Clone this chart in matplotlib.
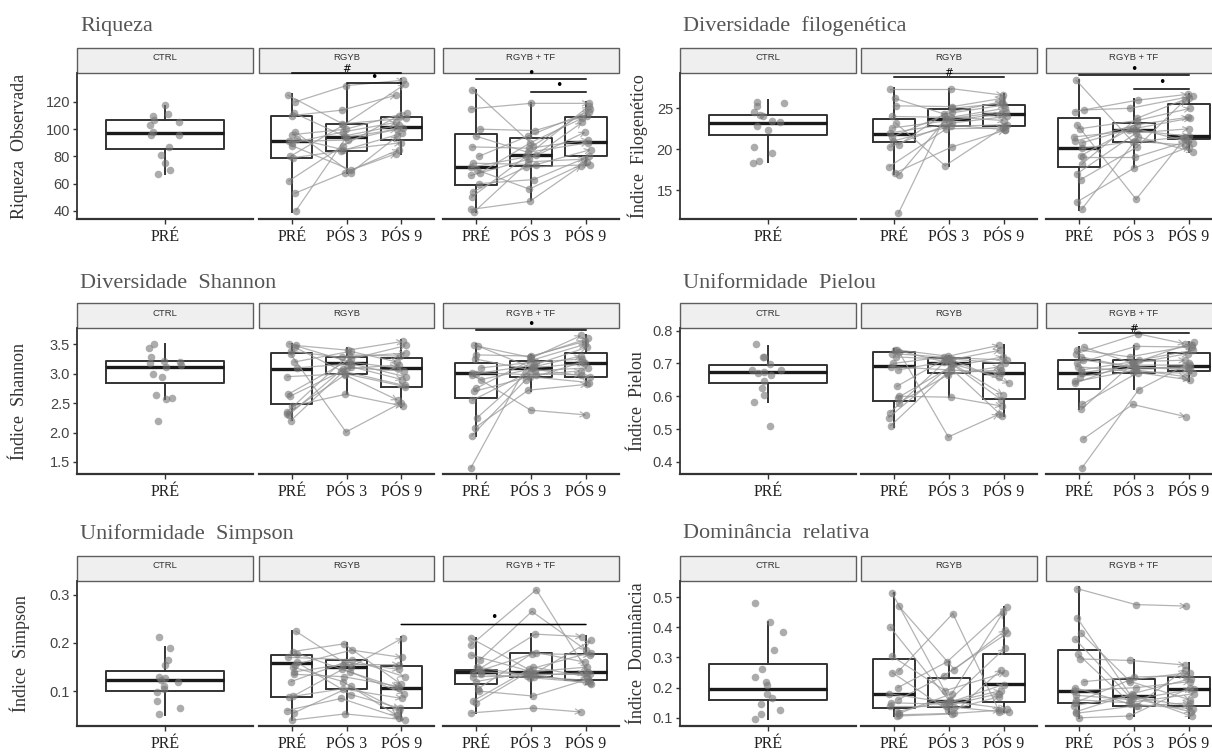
import numpy as np
import matplotlib
matplotlib.use('Agg')
import matplotlib.pyplot as plt
from matplotlib.patches import Rectangle, ConnectionPatch

# ---- data ----
groups = ['CTRL', 'RGYB', 'RGYB + TF']
times = ['PRÉ', 'PÓS 3', 'PÓS 9']

# Riqueza observada
riq_ctrl = [110, 118, 111, 103, 107, 105, 96, 98, 96, 87, 81, 75, 70, 67]
riq_rgyb_pre = [125, 120, 112, 110, 98, 96, 93, 91, 90, 88, 80, 79, 62, 53, 40]
riq_rgyb_p3 = [104, 132, 95, 114, 68, 100, 85, 92, 98, 70, 103, 84, 88, 68, 94]
riq_rgyb_p9 = [108, 136, 103, 125, 95, 112, 90, 101, 105, 82, 133, 97, 110, 85, 100]
riq_tf_pre = [129, 115, 100, 95, 87, 80, 75, 72, 70, 68, 66, 60, 54, 50, 41, 39]
riq_tf_p3 = [88, 119, 99, 83, 86, 95, 74, 81, 56, 90, 78, 63, 72, 80, 47, 76]
riq_tf_p9 = [115, 119, 110, 90, 92, 113, 85, 105, 76, 108, 98, 80, 74, 117, 73, 78]
riq_box = [(67, 85.3, 97.5, 106.8, 117.3), (39.5, 79.1, 91.6, 110.0, 125.6),
           (67.7, 84.3, 94.6, 103.9, 132.5), (81.8, 92.1, 101.4, 109.2, 136.6),
           (38.8, 59.1, 72.5, 96.5, 128.8), (47.7, 73.2, 81.1, 93.3, 119.5),
           (73.8, 80.4, 90.9, 109.2, 120.0)]

# Diversidade filogenetica
fil_ctrl = [25.8, 25.7, 25.3, 24.2, 24.0, 24.5, 23.3, 23.5, 22.8, 22.4, 20.3, 19.6, 18.6, 18.3]
fil_rgyb_pre = [27.4, 26.2, 25.3, 24.0, 23.2, 22.6, 22.0, 21.5, 21.0, 20.5, 20.3, 17.9, 17.1, 16.9, 12.2]
fil_rgyb_p3 = [27.4, 24.3, 25.2, 23.9, 18.0, 23.5, 23.0, 24.6, 22.8, 25.0, 23.2, 22.5, 20.3, 23.7, 24.0]
fil_rgyb_p9 = [26.6, 25.4, 26.2, 25.0, 22.8, 24.3, 22.4, 25.8, 23.0, 25.6, 24.0, 22.6, 22.3, 24.6, 23.5]
fil_tf_pre = [28.4, 24.8, 24.6, 23.0, 22.5, 21.5, 21.0, 20.8, 20.1, 19.2, 19.0, 18.2, 17.0, 16.3, 13.6, 12.7]
fil_tf_p3 = [20.9, 25.0, 26.0, 13.9, 23.5, 22.3, 23.0, 22.6, 21.0, 22.4, 19.0, 23.8, 22.0, 20.3, 17.7, 21.5]
fil_tf_p9 = [21.5, 26.5, 26.7, 21.3, 25.0, 21.6, 23.9, 20.8, 20.5, 23.8, 21.0, 26.3, 22.5, 26.0, 20.3, 19.7]
fil_box = [(18.4, 21.8, 23.26, 24.23, 25.98), (17.0, 20.9, 21.9, 23.66, 27.5),
           (18.0, 22.8, 23.7, 24.96, 27.4), (22.3, 22.8, 24.27, 25.45, 26.7),
           (12.6, 17.9, 20.1, 23.86, 28.5), (17.8, 20.9, 22.3, 23.2, 26.1),
           (19.7, 21.2, 21.6, 25.57, 26.7)]

# Diversidade Shannon
sha_ctrl = [3.51, 3.43, 3.28, 3.22, 3.20, 3.18, 3.14, 3.12, 3.00, 2.95, 2.63, 2.58, 2.57, 2.20]
sha_rgyb_pre = [3.51, 3.48, 3.45, 3.38, 3.33, 3.20, 3.10, 2.95, 2.65, 2.62, 2.45, 2.35, 2.32, 2.30, 2.20]
sha_rgyb_p3 = [3.20, 3.40, 3.05, 3.28, 2.01, 3.38, 3.17, 3.00, 3.25, 3.12, 2.65, 3.32, 2.98, 3.08, 3.10]
sha_rgyb_p9 = [3.10, 3.55, 2.80, 3.35, 2.50, 3.20, 2.95, 2.78, 3.48, 2.90, 2.45, 3.30, 2.55, 3.15, 3.05]
sha_tf_pre = [3.48, 3.47, 3.32, 3.25, 3.10, 3.02, 3.00, 2.98, 2.90, 2.75, 2.70, 2.55, 2.25, 2.08, 1.95, 1.40]
sha_tf_p3 = [3.28, 3.10, 3.30, 3.05, 3.20, 2.98, 3.15, 2.38, 3.08, 3.22, 2.95, 3.00, 3.12, 2.72, 2.90, 3.26]
sha_tf_p9 = [3.60, 3.18, 3.55, 3.10, 3.25, 3.05, 3.45, 2.30, 2.95, 3.50, 2.85, 2.98, 3.30, 2.82, 3.20, 3.65]
sha_box = [(2.57, 2.85, 3.12, 3.22, 3.505), (2.21, 2.49, 3.08, 3.347, 3.51),
           (2.65, 2.995, 3.177, 3.29, 3.43), (2.44, 2.77, 3.09, 3.26, 3.57),
           (1.94, 2.58, 3.02, 3.177, 3.50), (2.71, 2.94, 3.09, 3.216, 3.32),
           (2.81, 2.95, 3.177, 3.35, 3.66)]

# Uniformidade Pielou
pie_ctrl = [0.758, 0.72, 0.72, 0.698, 0.68, 0.675, 0.67, 0.665, 0.68, 0.645, 0.625, 0.605, 0.583, 0.51]
pie_rgyb_pre = [0.742, 0.74, 0.735, 0.73, 0.72, 0.70, 0.69, 0.68, 0.63, 0.60, 0.595, 0.58, 0.55, 0.535, 0.51]
pie_rgyb_p3 = [0.722, 0.70, 0.476, 0.718, 0.712, 0.72, 0.68, 0.705, 0.715, 0.597, 0.69, 0.665, 0.71, 0.698, 0.67]
pie_rgyb_p9 = [0.755, 0.59, 0.545, 0.71, 0.74, 0.64, 0.672, 0.54, 0.70, 0.57, 0.72, 0.69, 0.605, 0.66, 0.68]
pie_tf_pre = [0.75, 0.742, 0.73, 0.72, 0.71, 0.70, 0.69, 0.68, 0.672, 0.66, 0.645, 0.64, 0.575, 0.56, 0.47, 0.382]
pie_tf_p3 = [0.70, 0.72, 0.79, 0.685, 0.69, 0.752, 0.675, 0.705, 0.695, 0.688, 0.68, 0.71, 0.672, 0.70, 0.575, 0.62]
pie_tf_p9 = [0.73, 0.755, 0.76, 0.69, 0.68, 0.75, 0.67, 0.71, 0.695, 0.685, 0.66, 0.74, 0.65, 0.765, 0.538, 0.70]
pie_box = [(0.582, 0.64, 0.674, 0.696, 0.754), (0.507, 0.587, 0.691, 0.734, 0.745),
           (0.599, 0.67, 0.701, 0.716, 0.722), (0.539, 0.593, 0.672, 0.70, 0.755),
           (0.562, 0.623, 0.672, 0.71, 0.751), (0.623, 0.672, 0.688, 0.711, 0.754),
           (0.647, 0.677, 0.693, 0.732, 0.766)]

# Uniformidade Simpson
sim_ctrl = [0.213, 0.19, 0.165, 0.155, 0.13, 0.128, 0.124, 0.12, 0.11, 0.105, 0.098, 0.08, 0.065, 0.052]
sim_rgyb_pre = [0.224, 0.182, 0.178, 0.17, 0.16, 0.155, 0.15, 0.14, 0.135, 0.12, 0.09, 0.088, 0.06, 0.055, 0.04]
sim_rgyb_p3 = [0.15, 0.198, 0.14, 0.165, 0.093, 0.185, 0.12, 0.155, 0.13, 0.16, 0.145, 0.105, 0.085, 0.11, 0.053]
sim_rgyb_p9 = [0.21, 0.115, 0.095, 0.13, 0.065, 0.17, 0.05, 0.155, 0.11, 0.145, 0.106, 0.085, 0.045, 0.06, 0.041]
sim_tf_pre = [0.21, 0.195, 0.175, 0.165, 0.15, 0.145, 0.14, 0.138, 0.135, 0.13, 0.12, 0.105, 0.10, 0.08, 0.075, 0.055]
sim_tf_p3 = [0.145, 0.31, 0.138, 0.265, 0.13, 0.218, 0.135, 0.18, 0.128, 0.132, 0.14, 0.178, 0.09, 0.15, 0.137, 0.065]
sim_tf_p9 = [0.18, 0.14, 0.205, 0.185, 0.122, 0.213, 0.135, 0.16, 0.118, 0.138, 0.15, 0.175, 0.125, 0.13, 0.115, 0.057]
sim_box = [(0.05, 0.101, 0.124, 0.141, 0.192), (0.04, 0.089, 0.158, 0.175, 0.225),
           (0.053, 0.105, 0.15, 0.164, 0.20), (0.041, 0.066, 0.106, 0.153, 0.212),
           (0.055, 0.114, 0.139, 0.143, 0.21), (0.088, 0.129, 0.139, 0.18, 0.219),
           (0.115, 0.123, 0.139, 0.177, 0.214)]

# Dominancia relativa
dom_ctrl = [0.481, 0.418, 0.383, 0.325, 0.263, 0.235, 0.22, 0.21, 0.178, 0.165, 0.147, 0.125, 0.113, 0.097]
dom_rgyb_pre = [0.512, 0.47, 0.40, 0.305, 0.255, 0.25, 0.20, 0.18, 0.16, 0.15, 0.14, 0.12, 0.115, 0.11, 0.106]
dom_rgyb_p3 = [0.135, 0.26, 0.155, 0.19, 0.445, 0.125, 0.285, 0.15, 0.24, 0.145, 0.14, 0.16, 0.18, 0.115, 0.113]
dom_rgyb_p9 = [0.118, 0.39, 0.13, 0.25, 0.12, 0.17, 0.467, 0.19, 0.38, 0.21, 0.18, 0.33, 0.45, 0.125, 0.26]
dom_tf_pre = [0.528, 0.43, 0.38, 0.36, 0.31, 0.295, 0.22, 0.20, 0.19, 0.175, 0.16, 0.15, 0.14, 0.12, 0.115, 0.10]
dom_tf_p3 = [0.475, 0.165, 0.22, 0.17, 0.145, 0.29, 0.235, 0.138, 0.2, 0.16, 0.15, 0.225, 0.175, 0.18, 0.14, 0.106]
dom_tf_p9 = [0.47, 0.12, 0.16, 0.14, 0.13, 0.275, 0.24, 0.15, 0.22, 0.195, 0.18, 0.25, 0.105, 0.23, 0.26, 0.2]
dom_box = [(0.097, 0.158, 0.195, 0.278, 0.416), (0.106, 0.132, 0.18, 0.294, 0.514),
           (0.113, 0.136, 0.155, 0.231, 0.285), (0.118, 0.151, 0.211, 0.312, 0.467),
           (0.10, 0.149, 0.19, 0.325, 0.533), (0.106, 0.14, 0.173, 0.227, 0.291),
           (0.10, 0.14, 0.195, 0.236, 0.28)]

# significance bars: (facet, x from, x to, y, symbol)
riq_sig = [(1, 1, 3, 141, '#'), (1, 2, 3, 134, '•'), (2, 1, 3, 137, '•'), (2, 2, 3, 127.5, '•')]
fil_sig = [(1, 1, 3, 28.8, '#'), (2, 1, 3, 29.0, '•'), (2, 2, 3, 27.4, '•')]
sha_sig = [(2, 1, 3, 3.743, '•')]
pie_sig = [(2, 1, 3, 0.792, '#')]
sim_sig = [('cross', 3, 3, 0.238, '•')]
dom_sig = []

panels = [
    dict(title='Riqueza', ylabel='Riqueza  Observada', ylim=(34, 141.3), yticks=[40, 60, 80, 100, 120],
         ctrl=riq_ctrl, rgyb=(riq_rgyb_pre, riq_rgyb_p3, riq_rgyb_p9), tf=(riq_tf_pre, riq_tf_p3, riq_tf_p9),
         box=riq_box, sig=riq_sig, fmt='{:.0f}'),
    dict(title='Diversidade  filogenética', ylabel='Índice  Filogenético', ylim=(11.5, 29.3), yticks=[15, 20, 25],
         ctrl=fil_ctrl, rgyb=(fil_rgyb_pre, fil_rgyb_p3, fil_rgyb_p9), tf=(fil_tf_pre, fil_tf_p3, fil_tf_p9),
         box=fil_box, sig=fil_sig, fmt='{:.0f}'),
    dict(title='Diversidade  Shannon', ylabel='Índice  Shannon', ylim=(1.296, 3.777), yticks=[1.5, 2.0, 2.5, 3.0, 3.5],
         ctrl=sha_ctrl, rgyb=(sha_rgyb_pre, sha_rgyb_p3, sha_rgyb_p9), tf=(sha_tf_pre, sha_tf_p3, sha_tf_p9),
         box=sha_box, sig=sha_sig, fmt='{:.1f}'),
    dict(title='Uniformidade  Pielou', ylabel='Índice  Pielou', ylim=(0.363, 0.808), yticks=[0.4, 0.5, 0.6, 0.7, 0.8],
         ctrl=pie_ctrl, rgyb=(pie_rgyb_pre, pie_rgyb_p3, pie_rgyb_p9), tf=(pie_tf_pre, pie_tf_p3, pie_tf_p9),
         box=pie_box, sig=pie_sig, fmt='{:.1f}'),
    dict(title='Uniformidade  Simpson', ylabel='Índice  Simpson', ylim=(0.028, 0.328), yticks=[0.1, 0.2, 0.3],
         ctrl=sim_ctrl, rgyb=(sim_rgyb_pre, sim_rgyb_p3, sim_rgyb_p9), tf=(sim_tf_pre, sim_tf_p3, sim_tf_p9),
         box=sim_box, sig=sim_sig, fmt='{:.1f}'),
    dict(title='Dominância  relativa', ylabel='Índice  Dominância', ylim=(0.073, 0.553), yticks=[0.1, 0.2, 0.3, 0.4, 0.5],
         ctrl=dom_ctrl, rgyb=(dom_rgyb_pre, dom_rgyb_p3, dom_rgyb_p9), tf=(dom_tf_pre, dom_tf_p3, dom_tf_p9),
         box=dom_box, sig=dom_sig, fmt='{:.1f}'),
]

# ---- layout (pixels) ----
W, H = 1212, 756
col_x = [[(77, 253), (259, 434), (443, 619)], [(680, 856), (861, 1037), (1046, 1222)]]
row_y = [(73, 219), (328, 474), (581, 726)]
title_y = [26, 283, 534]
title_x = [80, 683]
ylab_x = [20, 638]
strip_h = 25

SERIF = 'Liberation Serif'
SANS = 'Liberation Sans'
BOXC = '#333333'
PTC = '#767676'
LINEC = '#9a9a9a'

fig = plt.figure(figsize=(W / 100, H / 100), dpi=100)
rng = np.random.default_rng(11)


def add_ax(x0, x1, yt, yb):
    return fig.add_axes([x0 / W, 1 - yb / H, (x1 - x0) / W, (yb - yt) / H])


def draw_box(ax, stats, positions, width):
    bs = [dict(whislo=s[0], q1=s[1], med=s[2], q3=s[3], whishi=s[4], fliers=[]) for s in stats]
    ax.bxp(bs, positions=positions, widths=width, showcaps=False, showfliers=False,
           boxprops=dict(color=BOXC, lw=1.4), medianprops=dict(color='#1a1a1a', lw=2.4),
           whiskerprops=dict(color=BOXC, lw=1.4), manage_ticks=False, zorder=2)


for i, p in enumerate(panels):
    col, row = i % 2, i // 2
    yt, yb = row_y[row]
    axes = [add_ax(x0, x1, yt, yb) for (x0, x1) in col_x[col]]
    sh = strip_h / (yb - yt)
    for k, ax in enumerate(axes):
        ax.set_ylim(*p['ylim'])
        ax.set_facecolor('none')
        for s in ['top', 'right']:
            ax.spines[s].set_visible(False)
        ax.spines['left'].set_visible(k == 0)
        ax.spines['left'].set_color(BOXC)
        ax.spines['left'].set_linewidth(1.3)
        ax.spines['bottom'].set_color(BOXC)
        ax.spines['bottom'].set_linewidth(1.6)
        ax.add_patch(Rectangle((0, 1), 1, sh, transform=ax.transAxes, clip_on=False,
                               facecolor='#efefef', edgecolor='#5e5e5e', lw=1.0, zorder=1))
        ax.text(0.5, 1 + sh * 0.6, groups[k], transform=ax.transAxes, ha='center', va='center',
                fontsize=6.8, family=SANS, color='#333333')
        ax.tick_params(axis='x', length=3.5, width=1, color=BOXC, pad=4)
        if k == 0:
            ax.set_yticks(p['yticks'])
            ax.set_yticklabels([p['fmt'].format(v) for v in p['yticks']], family=SANS, fontsize=10.5,
                               color='#444444')
            ax.tick_params(axis='y', length=3, width=1, color=BOXC, pad=2)
        else:
            ax.tick_params(axis='y', left=False, labelleft=False)

    # CTRL facet
    ax = axes[0]
    ax.set_xlim(0.4, 1.6)
    ax.set_xticks([1])
    ax.set_xticklabels([times[0]], family=SERIF, fontsize=11.5, color='#222222')
    draw_box(ax, p['box'][:1], [1], 0.8)
    ctrl = np.array(p['ctrl'])
    ax.scatter(1 + rng.uniform(-0.11, 0.11, len(ctrl)), ctrl, s=30, color=PTC, alpha=0.6, lw=0, zorder=4)

    # paired facets
    for k, (grp, stats) in enumerate([(p['rgyb'], p['box'][1:4]), (p['tf'], p['box'][4:7])], start=1):
        ax = axes[k]
        ax.set_xlim(0.4, 3.6)
        ax.set_xticks([1, 2, 3])
        ax.set_xticklabels(times, family=SERIF, fontsize=11.5, color='#222222')
        draw_box(ax, stats, [1, 2, 3], 0.75)
        pre, p3, p9 = (np.array(v) for v in grp)
        n = len(pre)
        xs = [t + rng.uniform(-0.1, 0.1, n) for t in (1, 2, 3)]
        for j in range(n):
            ax.plot([xs[0][j], xs[1][j]], [pre[j], p3[j]], color=LINEC, lw=0.9, alpha=0.75, zorder=3)
            ax.annotate('', xy=(xs[2][j], p9[j]), xytext=(xs[1][j], p3[j]),
                        arrowprops=dict(arrowstyle='->,head_length=0.35,head_width=0.18', color=LINEC,
                                        lw=0.9, alpha=0.75, shrinkA=0, shrinkB=0), zorder=3)
        for x, v in zip(xs, (pre, p3, p9)):
            ax.scatter(x, v, s=30, color=PTC, alpha=0.6, lw=0, zorder=4)

    # significance
    for fac, xa, xb, y, sym in p['sig']:
        if fac == 'cross':
            con = ConnectionPatch(xyA=(xa, y), coordsA='data', axesA=axes[1],
                                  xyB=(xb, y), coordsB='data', axesB=axes[2], color='black', lw=1.1)
            fig.add_artist(con)
            d0 = axes[1].transData.transform((xa, y))
            d1 = axes[2].transData.transform((xb, y))
            fx, fy = fig.transFigure.inverted().transform(((d0[0] + d1[0]) / 2, d0[1]))
            fig.text(fx, fy + 1 / H, sym, ha='center', va='bottom', fontsize=9, family='DejaVu Sans')
        else:
            ax = axes[fac]
            ax.plot([xa, xb], [y, y], color='black', lw=1.1, clip_on=False, zorder=10)
            fs = 7.5 if sym == '#' else 9
            ax.annotate(sym, ((xa + xb) / 2, y), xytext=(0, -0.5), textcoords='offset points',
                        ha='center', va='bottom', fontsize=fs, family='DejaVu Sans', annotation_clip=False,
                        zorder=10)

    fig.text(title_x[col] / W, 1 - title_y[row] / H, p['title'], ha='left', va='center',
             fontsize=16, family=SERIF, color='#555555')
    fig.text(ylab_x[col] / W, 1 - ((yt + yb) / 2) / H, p['ylabel'], rotation=90, ha='center', va='center',
             fontsize=13, family=SERIF, color='#333333')

fig.savefig('out.png', dpi=100)
